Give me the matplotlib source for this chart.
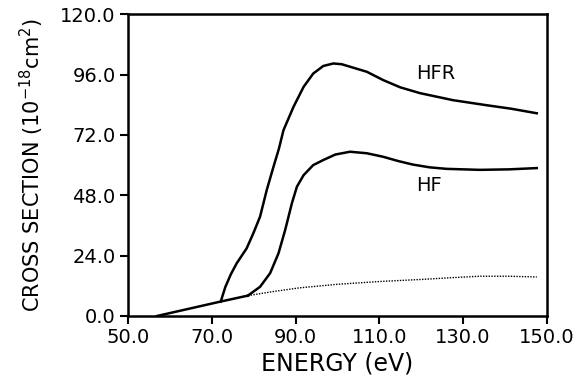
import numpy as np
import matplotlib.pyplot as plt

# common linear onset (shared by both curves)
base_e = [56.9, 72.0, 78.6]
base_y = [0.0, 5.7, 8.1]

# HFR curve
hfr_e = [72.1, 73.2, 74.5, 75.9, 78.3, 79.9, 81.5, 83.1, 84.7, 86.0, 87.1, 89.5,
         91.9, 94.2, 96.6, 99.0, 101.0, 103.0, 107.0, 110.9, 115.0, 119.7, 127.6,
         135.6, 141.5, 147.6]
hfr_y = [5.7, 11.5, 16.5, 20.9, 26.9, 32.9, 39.5, 50.1, 59.3, 66.5, 73.9, 83.2,
         91.1, 96.4, 99.4, 100.4, 100.1, 99.1, 97.1, 93.8, 90.9, 88.6, 85.8,
         83.8, 82.4, 80.6]

# HF curve
hf_e = [78.6, 81.5, 83.9, 85.9, 87.5, 89.1, 90.3, 91.9, 94.2, 96.6, 99.5, 103.0,
        107.0, 110.9, 114.5, 118.0, 122.0, 126.0, 134.0, 141.0, 147.6]
hf_y = [8.1, 11.6, 17.0, 24.9, 34.2, 44.8, 51.4, 56.0, 60.0, 62.0, 64.2, 65.3,
        64.7, 63.3, 61.6, 60.2, 59.1, 58.5, 58.1, 58.3, 58.8]

# dotted background
bg_e = [78.6, 85.0, 91.0, 100.0, 110.0, 119.7, 127.0, 134.0, 141.0, 147.6]
bg_y = [8.1, 9.8, 11.2, 12.6, 13.7, 14.5, 15.2, 15.8, 15.8, 15.5]

fig = plt.figure(figsize=(5.88, 3.83), dpi=100)
ax = fig.add_axes([0.218, 0.175, 0.712, 0.788])

ax.plot(base_e, base_y, color='black', lw=1.8)
ax.plot(hfr_e, hfr_y, color='black', lw=1.8)
ax.plot(hf_e, hf_y, color='black', lw=1.8)
ax.plot(bg_e, bg_y, color='black', lw=1.0, ls=(0, (1, 1)))

ax.text(123.5, 96.5, 'HFR', fontsize=14, ha='center', va='center')
ax.text(121.8, 52, 'HF', fontsize=14, ha='center', va='center')

ax.set_xlim(50, 150)
ax.set_ylim(0, 120)
ax.set_xticks([50, 70, 90, 110, 130, 150])
ax.set_xticklabels(['50.0', '70.0', '90.0', '110.0', '130.0', '150.0'])
ax.set_yticks([0, 24, 48, 72, 96, 120])
ax.set_yticklabels(['0.0', '24.0', '48.0', '72.0', '96.0', '120.0'])
ax.tick_params(direction='out', length=6, width=1.5, labelsize=14, pad=3)
for s in ax.spines.values():
    s.set_linewidth(1.8)

ax.set_xlabel('ENERGY (eV)', fontsize=17, labelpad=3)
ax.set_ylabel('CROSS SECTION (10$^{-18}$cm$^2$)', fontsize=15, labelpad=10)

fig.savefig('out.png', dpi=100)
